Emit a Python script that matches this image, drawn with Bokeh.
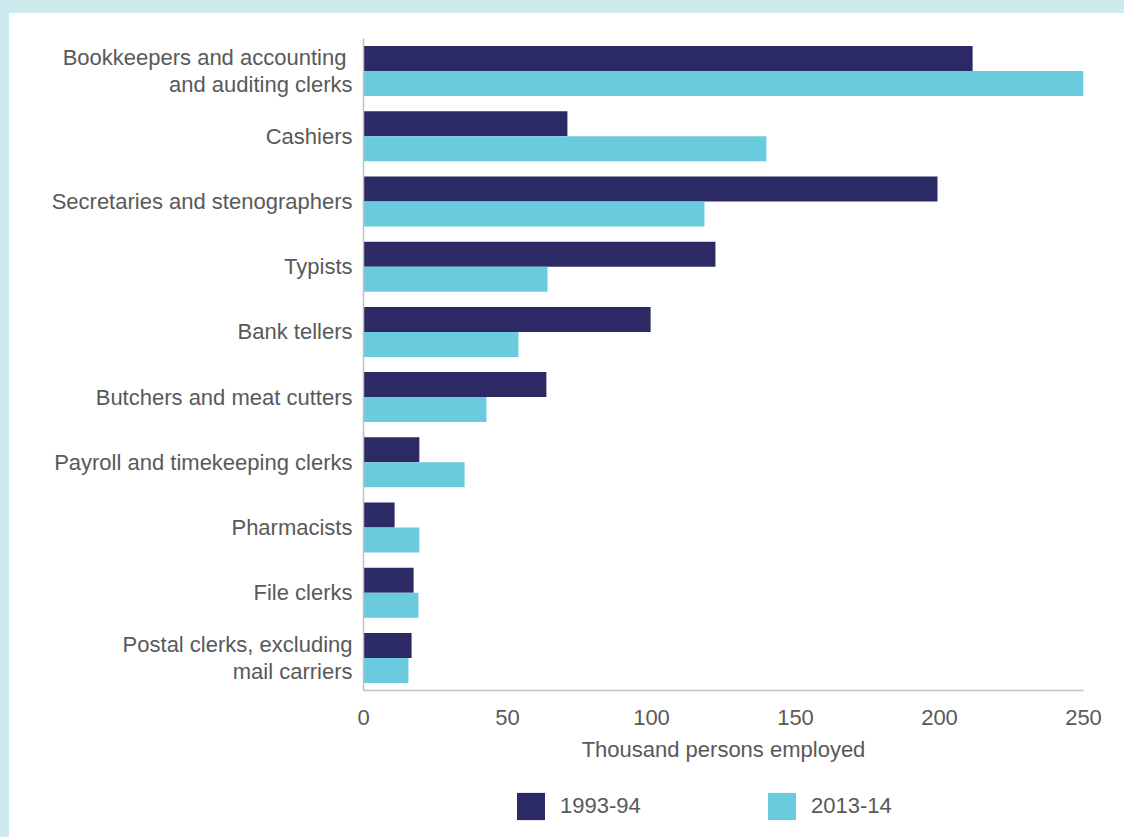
from bokeh.plotting import figure
from bokeh.models import FactorRange, Range1d, SingleIntervalTicker, Legend, LegendItem
from bokeh.transform import dodge
from bokeh.layouts import column
from bokeh.embed import file_html
from bokeh.resources import INLINE

categories = [
    "Bookkeepers and accounting \nand auditing clerks",
    "Cashiers",
    "Secretaries and stenographers",
    "Typists",
    "Bank tellers",
    "Butchers and meat cutters",
    "Payroll and timekeeping clerks",
    "Pharmacists",
    "File clerks",
    "Postal clerks, excluding\nmail carriers",
]
v1993 = [211.5, 70.8, 199.3, 122.2, 99.7, 63.5, 19.4, 10.8, 17.4, 16.7]
v2013 = [250.0, 139.9, 118.4, 63.9, 53.8, 42.7, 35.1, 19.4, 19.1, 15.6]
series_names = ["1993-94", "2013-14"]
x_ticks_interval = 50

DARK = "#2b2a64"
LIGHT = "#6bcbde"
TXT = "#595959"
FONT = "Liberation Sans"
FS = "22px"

src = dict(cat=categories, a=v1993, b=v2013)

# main chart: page y 13..770
p = figure(
    width=1115, height=757,
    y_range=FactorRange(factors=list(reversed(categories)), range_padding=0),
    x_range=Range1d(0, 250),
    output_backend="svg", toolbar_location=None,
    min_border_left=354, min_border_right=41, min_border_top=25, min_border_bottom=80,
)
p.background_fill_color = None
p.border_fill_color = None

p.hbar(y=dodge("cat", 0.1917, range=p.y_range), right="a", left=0, height=0.383,
       source=src, color=DARK, line_color=None)
p.hbar(y=dodge("cat", -0.1917, range=p.y_range), right="b", left=0, height=0.383,
       source=src, color=LIGHT, line_color=None)

p.xgrid.visible = False
p.ygrid.visible = False
p.outline_line_color = None

p.xaxis.ticker = SingleIntervalTicker(interval=x_ticks_interval)
for ax in (p.xaxis[0], p.yaxis[0]):
    ax.axis_line_color = "#bfbfbf"
    ax.axis_line_width = 1.5
    ax.major_tick_line_color = None
    ax.minor_tick_line_color = None
    ax.major_tick_out = 0
    ax.minor_tick_out = 0
    ax.major_label_text_font = FONT
    ax.major_label_text_font_size = FS
    ax.major_label_text_color = TXT

p.yaxis.major_label_text_line_height = 1.05
p.yaxis.major_label_text_baseline = "alphabetic"
p.xaxis.major_label_standoff = 19
p.xaxis.axis_label = "Thousand persons employed"
p.xaxis.axis_label_text_font = FONT
p.xaxis.axis_label_text_font_size = FS
p.xaxis.axis_label_text_font_style = "normal"
p.xaxis.axis_label_text_color = TXT
p.xaxis.axis_label_standoff = 9
p.yaxis.major_label_standoff = 11

# legend strip: page y 770..837 (frame aligned with main chart frame)
lg = figure(width=1115, height=67, output_backend="svg", toolbar_location=None,
            min_border=0, x_range=Range1d(0, 1), y_range=Range1d(0, 1))
lg.axis.visible = False
lg.grid.visible = False
lg.outline_line_color = None
lg.background_fill_color = None
lg.border_fill_color = None
# legend proxies: same data, placed outside the strip's visible range
k1 = lg.hbar(y=-10, right="a", left=0, height=0.5, source=src, color=DARK, line_color=None)
k2 = lg.hbar(y=-10, right="b", left=0, height=0.5, source=src, color=LIGHT, line_color=None)

legend = Legend(
    items=[LegendItem(label=series_names[0], renderers=[k1]),
           LegendItem(label=series_names[1], renderers=[k2])],
    orientation="horizontal", location=(150, 14),
    glyph_width=35, glyph_height=34, label_standoff=12, spacing=104, label_width=100,
    padding=0, margin=0, border_line_color=None, background_fill_alpha=0,
    label_text_font=FONT, label_text_font_size=FS, label_text_color=TXT,
)
lg.add_layout(legend, "center")

layout = column(p, lg, spacing=0,
                styles={"border-top": "13px solid #cdebef", "border-left": "9px solid #cdebef"})
open("out.html", "w").write(file_html(layout, INLINE))
